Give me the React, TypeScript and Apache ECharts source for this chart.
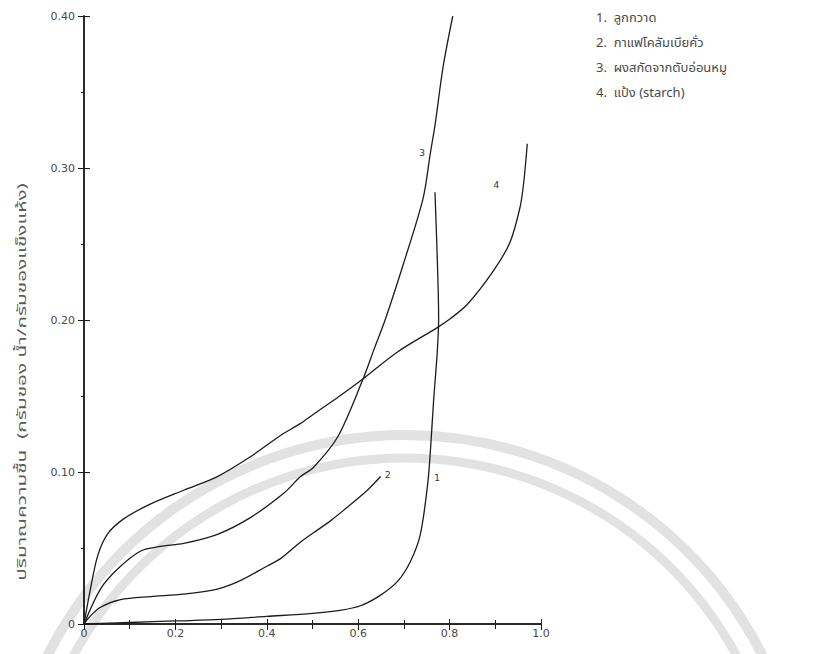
import React, { useEffect, useRef } from 'react';
import * as echarts from 'echarts';

// Moisture sorption isotherms: water activity (a_w) vs. moisture content
const SERIES_NAMES = ['ลูกกวาด', 'กาแฟโคลัมเบียคั่ว', 'ผงสกัดจากตับอ่อนหมู', 'แป้ง (starch)'];
const CURVE_TAGS = ['1', '2', '3', '4'];

// [a_w, g water / g dry solid]
const CANDY: [number, number][] = [
  [0, 0], [0.1, 0.001], [0.2, 0.002], [0.3, 0.003], [0.4, 0.005], [0.5, 0.007],
  [0.56, 0.009], [0.605, 0.012], [0.649, 0.019], [0.686, 0.028], [0.714, 0.041],
  [0.736, 0.059], [0.752, 0.092], [0.758, 0.114], [0.765, 0.147], [0.773, 0.179],
  [0.776, 0.201], [0.775, 0.22], [0.772, 0.25], [0.768, 0.284],
];
const COFFEE: [number, number][] = [
  [0, 0], [0.01, 0.004], [0.036, 0.011], [0.08, 0.016], [0.146, 0.018], [0.218, 0.0196],
  [0.292, 0.023], [0.342, 0.0285], [0.4, 0.038], [0.43, 0.043], [0.474, 0.054],
  [0.502, 0.06], [0.54, 0.068], [0.577, 0.077], [0.62, 0.088], [0.649, 0.097],
];
const PANCREAS: [number, number][] = [
  [0, 0], [0.036, 0.023], [0.073, 0.036], [0.124, 0.048], [0.167, 0.051], [0.218, 0.053],
  [0.292, 0.059], [0.364, 0.07], [0.437, 0.086], [0.474, 0.097], [0.502, 0.103],
  [0.555, 0.123], [0.609, 0.16], [0.635, 0.181], [0.66, 0.201], [0.698, 0.236],
  [0.742, 0.28], [0.758, 0.31], [0.768, 0.328], [0.786, 0.367], [0.807, 0.4],
];
const STARCH: [number, number][] = [
  [0, 0], [0.014, 0.023], [0.03, 0.045], [0.051, 0.059], [0.086, 0.069], [0.146, 0.079],
  [0.218, 0.088], [0.292, 0.097], [0.364, 0.11], [0.43, 0.124], [0.474, 0.132],
  [0.502, 0.138], [0.555, 0.149], [0.605, 0.16], [0.686, 0.179], [0.773, 0.195],
  [0.802, 0.201], [0.838, 0.21], [0.895, 0.232], [0.932, 0.251], [0.954, 0.274],
  [0.962, 0.29], [0.97, 0.316],
];

const X_LABELS = ['0', '0.2', '0.4', '0.6', '0.8', '1.0'];
const Y_LABELS = ['0', '0.10', '0.20', '0.30', '0.40'];

const Y_TITLE = 'ปริมาณความชื้น  (กรัมของ น้ำ/กรัมของแข็งแห้ง)';

const SERIES_DATA = [CANDY, COFFEE, PANCREAS, STARCH];
// where each curve's number tag sits: [point index, side, gap, offset]
const TAG_PLACES: [number, string, number, [number, number]][] = [
  [12, 'right', 6, [0, -6]],
  [COFFEE.length - 1, 'right', 4, [0, -2]],
  [17, 'left', 5, [0, 0]],
  [21, 'left', 24, [0, 2]],
];

const INK = '#1c1c1c';
const TEXT_GRAY = '#4a4a4a';
const FONT = '"Noto Sans Thai", "Noto Sans", "DejaVu Sans", sans-serif';

export default function App() {
  const ref = useRef<HTMLDivElement>(null);

  useEffect(() => {
    if (!ref.current) return;
    const chart = echarts.init(ref.current, undefined, { renderer: 'svg' });

    const series = SERIES_DATA.map((pts, si) => {
      const [tagIdx, side, gap, offset] = TAG_PLACES[si];
      return {
        name: SERIES_NAMES[si],
        type: 'line',
        smooth: 0.3,
        symbol: 'none',
        showSymbol: true,
        lineStyle: { color: INK, width: 1.3 },
        itemStyle: { color: INK },
        z: 3,
        data: pts.map((p, i) =>
          i === tagIdx
            ? {
                value: p,
                symbol: 'circle',
                symbolSize: 1,
                itemStyle: { color: 'rgba(0,0,0,0)' },
                label: {
                  show: true,
                  formatter: CURVE_TAGS[si],
                  position: side,
                  distance: gap,
                  offset,
                  color: '#333',
                  fontSize: 9,
                  fontFamily: 'DejaVu Sans',
                },
              }
            : p
        ),
      };
    });

    const legendTexts = SERIES_NAMES.map((name, i) => ({
      type: 'text',
      x: 596,
      y: 18 + i * 25,
      silent: true,
      style: {
        text: `${CURVE_TAGS[i]}.  ${name}`,
        fill: TEXT_GRAY,
        font: `13px ${FONT}`,
        textVerticalAlign: 'middle',
      },
    }));

    const axisLine = { show: true, lineStyle: { color: INK, width: 1.5 } };
    const tickStyle = { color: INK, width: 1 };
    const labelStyle = { color: TEXT_GRAY, fontSize: 11, fontFamily: 'DejaVu Sans' };

    chart.setOption({
      animation: false,
      backgroundColor: '#ffffff',
      grid: { left: 84, right: 272, top: 16, bottom: 30, containLabel: false },
      xAxis: [
        {
          type: 'value', min: 0, max: 1, interval: 0.2, position: 'bottom',
          axisLine, splitLine: { show: false },
          axisTick: { inside: true, length: 5, lineStyle: tickStyle },
          minorTick: { show: true, splitNumber: 2, length: 4, lineStyle: tickStyle },
          axisLabel: {
            ...labelStyle, margin: 4,
            formatter: (v: number) => X_LABELS[Math.round(v / 0.2)] ?? '',
          },
        },
        {
          type: 'value', min: 0, max: 1, interval: 0.2, position: 'top',
          axisLine, splitLine: { show: false },
          axisTick: { inside: true, length: 6, lineStyle: tickStyle },
          minorTick: { show: true, splitNumber: 2, length: 5, lineStyle: tickStyle },
          axisLabel: { show: false },
        },
      ],
      yAxis: [
        {
          type: 'value', min: 0, max: 0.4, interval: 0.1, position: 'left',
          axisLine, splitLine: { show: false },
          axisTick: { inside: true, length: 6, lineStyle: tickStyle },
          axisLabel: {
            ...labelStyle, margin: 9,
            formatter: (v: number) => Y_LABELS[Math.round(v / 0.1)] ?? '',
          },
        },
        {
          type: 'value', min: 0, max: 0.4, interval: 0.1, position: 'right',
          axisLine, splitLine: { show: false },
          axisTick: { inside: true, length: 6, lineStyle: tickStyle },
          minorTick: { show: true, splitNumber: 2, length: 3, lineStyle: tickStyle },
          axisLabel: { show: false },
        },
      ],
      graphic: [
        // faint background seal rings
        {
          type: 'arc', z: -10, silent: true,
          shape: { cx: 405, cy: 835, r: 400, startAngle: -2.8, endAngle: -0.35, clockwise: true },
          style: { stroke: '#e2e2e2', lineWidth: 10, fill: 'none' },
        },
        {
          type: 'arc', z: -10, silent: true,
          shape: { cx: 405, cy: 835, r: 377, startAngle: -2.8, endAngle: -0.35, clockwise: true },
          style: { stroke: '#e2e2e2', lineWidth: 9, fill: 'none' },
        },
        {
          type: 'text', x: 22, y: 382, rotation: Math.PI / 2, scaleX: 1.6, silent: true,
          style: {
            text: Y_TITLE, fill: '#5a5a5a', font: `13px ${FONT}`,
            textAlign: 'center', textVerticalAlign: 'middle',
          },
        },
        ...legendTexts,
      ],
      series,
    });

    return () => chart.dispose();
  }, []);

  return (
    <div
      ref={ref}
      style={{ position: 'fixed', left: 0, top: 0, width: 813, height: 654, background: '#fff' }}
    />
  );
}
